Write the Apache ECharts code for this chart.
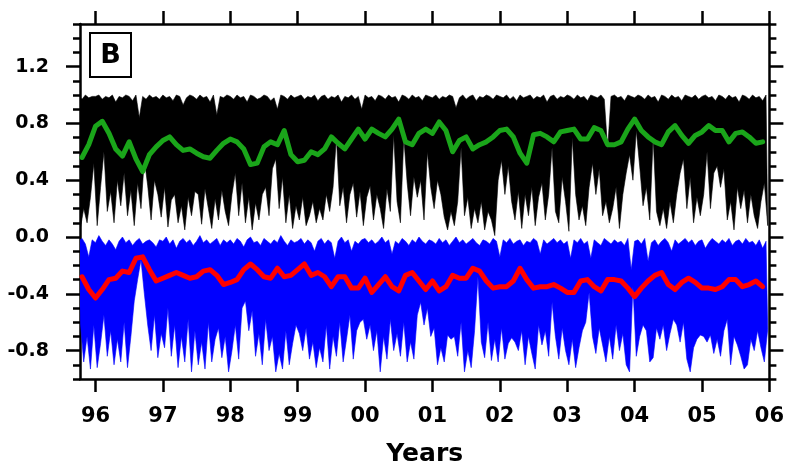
<!DOCTYPE html>
<html>
<head>
<meta charset="utf-8">
<script src="https://cdn.jsdelivr.net/npm/echarts@6/dist/echarts.min.js"></script>
<style>
html,body{margin:0;padding:0;background:#fff;}
#chart{width:787px;height:472px;}
</style>
</head>
<body>
<div id="chart"></div>
<script>
// ---------- data ----------
// dense series: one bin every 0.05 year starting at 95.75 (bin high and bin low)
var denseStart = 95.75;
var denseStep = 0.05;
var blackHigh = [
  0.99,0.97,1.0,0.98,0.99,
  0.99,1.0,0.97,0.99,0.98,1.0,0.95,0.99,0.98,1.0,0.99,0.96,1.0,0.84,0.99,0.97,1.0,0.98,0.99,0.97,
  1.0,0.98,0.99,0.96,1.0,0.99,0.93,0.98,1.0,0.99,0.97,1.0,0.98,0.99,0.95,1.0,0.86,0.99,0.98,1.0,
  0.99,0.97,1.0,0.98,0.99,0.95,1.0,0.99,0.97,0.98,1.0,0.99,0.96,0.98,0.9,1.0,0.99,0.97,1.0,0.98,
  0.99,1.0,0.97,0.99,0.98,1.0,0.96,0.99,1.0,0.97,0.99,0.98,1.0,0.95,0.99,0.98,1.0,0.97,0.99,0.9,
  1.0,0.98,0.99,0.96,1.0,0.99,0.97,1.0,0.98,0.99,0.95,1.0,0.99,0.97,1.0,0.98,0.99,0.96,1.0,0.99,
  0.98,1.0,0.97,0.99,0.98,1.0,0.99,0.91,0.98,1.0,0.97,0.99,1.0,0.96,0.99,0.98,1.0,0.99,0.97,1.0,
  0.99,0.98,1.0,0.97,0.99,0.96,1.0,0.98,0.99,1.0,0.97,0.99,0.98,1.0,0.95,0.99,1.0,0.97,0.99,0.98,
  1.0,0.99,0.97,1.0,0.98,0.99,0.96,1.0,0.99,0.98,1.0,0.97,0.62,0.99,1.0,0.98,0.99,0.96,1.0,0.99,
  0.98,1.0,0.99,0.97,1.0,0.98,0.99,0.95,1.0,0.99,0.97,1.0,0.98,0.99,0.96,1.0,0.99,0.98,1.0,0.97,
  0.99,1.0,0.98,0.99,0.96,1.0,0.99,0.97,1.0,0.98,0.99,0.95,1.0,0.99,0.97,1.0,0.98,0.99,0.96,1.0
];
var blackLow = [
  0.06,0.20,0.10,0.28,0.52,
  0.08,0.35,0.60,0.18,0.32,0.10,0.40,0.22,0.45,0.15,0.33,0.08,0.38,0.20,0.55,0.36,0.12,0.40,0.30,0.14,
  0.35,0.07,0.26,0.30,0.10,0.22,0.05,0.28,0.15,0.32,0.30,0.09,0.34,0.20,0.06,0.27,0.12,0.33,0.18,0.08,
  0.30,0.45,0.15,0.38,0.10,0.28,0.05,0.24,0.12,0.30,0.35,0.15,0.48,0.55,0.20,0.42,0.10,0.30,0.06,0.22,
  0.12,0.28,0.08,0.15,0.25,0.10,0.20,0.12,0.30,0.18,0.35,0.70,0.22,0.35,0.10,0.30,0.38,0.14,0.32,0.08,
  0.28,0.36,0.12,0.30,0.20,0.06,0.34,0.18,0.72,0.25,0.10,0.70,0.38,0.15,0.42,0.28,0.40,0.12,0.60,0.35,
  0.20,0.40,0.30,0.14,0.05,0.18,0.08,0.25,0.63,0.15,0.28,0.06,0.20,0.10,0.25,0.05,0.18,0.12,0.01,0.40,
  0.54,0.30,0.50,0.25,0.12,0.32,0.06,0.30,0.15,0.35,0.08,0.28,0.38,0.12,0.30,0.63,0.18,0.10,0.42,0.25,
  0.04,0.70,0.30,0.12,0.22,0.08,0.35,0.52,0.30,0.48,0.15,0.25,0.10,0.20,0.35,0.06,0.30,0.45,0.58,0.40,
  0.75,0.50,0.22,0.35,0.12,0.70,0.18,0.08,0.20,0.06,0.25,0.10,0.30,0.45,0.55,0.20,0.42,0.10,0.28,0.15,
  0.30,0.60,0.20,0.45,0.50,0.35,0.48,0.12,0.25,0.05,0.35,0.20,0.33,0.10,0.30,0.15,0.06,0.25,0.38,0.08
];
var blueHigh = [
  -0.03,-0.01,-0.05,-0.14,-0.02,
  -0.04,0.01,-0.03,-0.06,-0.02,-0.05,-0.09,-0.03,0.0,-0.04,-0.02,-0.06,-0.03,-0.01,-0.05,-0.03,-0.02,-0.04,-0.07,-0.02,
  -0.03,0.0,-0.05,-0.02,-0.08,-0.03,-0.01,-0.04,-0.02,-0.06,-0.03,0.01,-0.04,-0.02,-0.05,-0.03,-0.01,-0.06,-0.02,-0.04,
  -0.02,-0.05,-0.01,-0.03,-0.07,-0.02,0.0,-0.04,-0.03,-0.06,-0.01,-0.03,-0.05,-0.02,-0.04,0.01,-0.03,-0.06,-0.02,-0.04,
  -0.03,-0.01,-0.05,-0.02,-0.04,-0.1,-0.03,-0.01,-0.05,-0.02,-0.04,-0.15,-0.03,0.0,-0.04,-0.02,-0.1,-0.03,-0.05,-0.02,
  -0.01,-0.04,-0.02,-0.05,-0.03,0.0,-0.04,-0.02,-0.12,-0.03,-0.05,-0.01,-0.03,-0.06,-0.02,-0.04,0.0,-0.03,-0.05,-0.02,
  -0.03,-0.05,-0.01,-0.04,-0.02,-0.06,-0.03,0.0,-0.04,-0.02,-0.05,-0.03,-0.01,-0.04,-0.06,-0.02,-0.03,-0.05,-0.01,-0.03,
  -0.14,-0.02,-0.04,-0.01,-0.05,-0.03,-0.02,-0.06,-0.03,-0.04,-0.01,-0.03,-0.12,-0.02,-0.05,-0.03,-0.01,-0.04,-0.02,-0.05,
  -0.03,-0.15,-0.02,-0.04,-0.01,-0.05,-0.03,-0.15,-0.02,-0.04,-0.06,-0.01,-0.03,-0.05,-0.02,-0.04,-0.03,-0.06,-0.01,-0.23,
  -0.03,-0.02,-0.05,-0.01,-0.17,-0.04,-0.02,-0.06,-0.03,-0.01,-0.04,-0.1,-0.02,-0.05,-0.03,-0.01,-0.04,-0.02,-0.06,-0.03,
  -0.02,-0.08,-0.04,-0.01,-0.03,-0.05,-0.02,-0.04,-0.01,-0.06,-0.03,-0.02,-0.05,-0.01,-0.04,-0.03,-0.06,-0.02,-0.08,-0.03
];
var blueLow = [
  -0.60,-0.88,-0.70,-0.93,-0.62,
  -0.92,-0.75,-0.55,-0.84,-0.66,-0.90,-0.72,-0.88,-0.60,-0.92,-0.70,-0.45,-0.30,-0.16,-0.40,-0.62,-0.80,-0.55,-0.85,-0.68,
  -0.78,-0.50,-0.84,-0.62,-0.92,-0.70,-0.88,-0.58,-0.95,-0.66,-0.90,-0.74,-0.93,-0.60,-0.88,-0.72,-0.64,-0.85,-0.70,-0.95,
  -0.80,-0.62,-0.86,-0.50,-0.45,-0.66,-0.52,-0.84,-0.68,-0.90,-0.58,-0.80,-0.70,-0.95,-0.82,-0.93,-0.66,-0.90,-0.75,-0.62,
  -0.68,-0.80,-0.64,-0.86,-0.74,-0.92,-0.78,-0.88,-0.62,-0.93,-0.70,-0.84,-0.60,-0.88,-0.72,-0.55,-0.86,-0.66,-0.60,-0.58,
  -0.72,-0.62,-0.80,-0.66,-0.95,-0.70,-0.86,-0.58,-0.80,-0.68,-0.84,-0.60,-0.88,-0.74,-0.86,-0.55,-0.46,-0.62,-0.50,-0.70,
  -0.64,-0.90,-0.78,-0.88,-0.69,-0.72,-0.70,-0.84,-0.60,-0.95,-0.80,-0.92,-0.66,-0.28,-0.74,-0.85,-0.60,-0.87,-0.72,-0.88,
  -0.64,-0.86,-0.75,-0.71,-0.74,-0.80,-0.66,-0.90,-0.70,-0.82,-0.93,-0.62,-0.76,-0.66,-0.84,-0.46,-0.70,-0.86,-0.64,-0.80,
  -0.90,-0.72,-0.92,-0.78,-0.66,-0.60,-0.39,-0.70,-0.82,-0.64,-0.76,-0.88,-0.70,-0.86,-0.62,-0.80,-0.68,-0.90,-0.95,-0.35,
  -0.84,-0.70,-0.62,-0.66,-0.88,-0.85,-0.64,-0.72,-0.62,-0.80,-0.68,-0.58,-0.62,-0.74,-0.60,-0.86,-0.95,-0.78,-0.72,-0.69,
  -0.70,-0.74,-0.69,-0.82,-0.72,-0.84,-0.66,-0.58,-0.90,-0.70,-0.76,-0.84,-0.93,-0.90,-0.72,-0.80,-0.66,-0.78,-0.88,-0.65
];
// smoothed series: one value every 0.1 year starting at 95.8
var smoothStart = 95.8;
var smoothStep = 0.1;
var greenSmooth = [
  0.56,0.65,
  0.78,0.815,0.73,0.62,0.57,0.67,0.55,0.46,0.58,0.635,
  0.68,0.705,0.65,0.61,0.62,0.59,0.565,0.555,0.61,0.66,
  0.69,0.67,0.62,0.51,0.52,0.635,0.67,0.65,0.75,0.58,
  0.53,0.54,0.60,0.58,0.62,0.705,0.66,0.62,0.69,0.76,
  0.69,0.76,0.73,0.705,0.76,0.83,0.67,0.65,0.73,0.76,
  0.73,0.81,0.75,0.60,0.68,0.705,0.62,0.65,0.67,0.705,
  0.75,0.76,0.705,0.59,0.52,0.72,0.73,0.705,0.67,0.74,
  0.75,0.76,0.69,0.69,0.77,0.75,0.65,0.65,0.67,0.76,
  0.83,0.75,0.705,0.67,0.65,0.74,0.785,0.715,0.66,0.715,
  0.74,0.785,0.75,0.75,0.67,0.73,0.74,0.705,0.66,0.67
];
var redSmooth = [
  -0.28,-0.37,
  -0.43,-0.37,-0.30,-0.29,-0.24,-0.25,-0.15,-0.14,-0.23,-0.31,
  -0.29,-0.27,-0.25,-0.27,-0.29,-0.28,-0.24,-0.23,-0.27,-0.335,
  -0.32,-0.30,-0.23,-0.19,-0.23,-0.28,-0.29,-0.22,-0.28,-0.27,
  -0.23,-0.19,-0.27,-0.25,-0.28,-0.35,-0.28,-0.28,-0.36,-0.36,
  -0.29,-0.39,-0.335,-0.28,-0.35,-0.38,-0.27,-0.25,-0.31,-0.37,
  -0.31,-0.38,-0.35,-0.27,-0.29,-0.29,-0.22,-0.24,-0.31,-0.36,
  -0.35,-0.35,-0.31,-0.22,-0.30,-0.36,-0.35,-0.35,-0.335,-0.36,
  -0.39,-0.39,-0.31,-0.30,-0.35,-0.38,-0.30,-0.30,-0.31,-0.36,
  -0.42,-0.36,-0.31,-0.27,-0.25,-0.335,-0.37,-0.32,-0.29,-0.32,
  -0.36,-0.36,-0.37,-0.35,-0.30,-0.30,-0.35,-0.335,-0.31,-0.35
];
var xTickValues = [96,97,98,99,100,101,102,103,104,105,106];
var xTickLabels = ['96','97','98','99','00','01','02','03','04','05','06'];
var yTickValues = [-0.8,-0.4,0.0,0.4,0.8,1.2];
var yTickLabels = ['-0.8','-0.4','0.0','0.4','0.8','1.2'];
var panelLabel = 'B';
var xTitle = 'Years';

// ---------- helpers ----------
function bandSeries(hi, lo, color) {
  return {
    type: 'custom', xAxisIndex: 0, yAxisIndex: 0, clip: true, silent: true,
    data: [0],
    renderItem: function (params, api) {
      var pts = [], i;
      for (i = 0; i < hi.length; i++) {
        pts.push(api.coord([denseStart + i * denseStep, hi[i]]));
      }
      for (i = lo.length - 1; i >= 0; i--) {
        pts.push(api.coord([denseStart + i * denseStep + denseStep / 2, lo[i]]));
      }
      var cs = params.coordSys;
      return {
        type: 'group',
        clipPath: { type: 'rect', shape: { x: cs.x, y: cs.y, width: cs.width, height: cs.height } },
        children: [{ type: 'polygon', shape: { points: pts }, style: { fill: color, stroke: color, lineWidth: 0.6 } }]
      };
    }
  };
}
function smooth(vals) {
  return vals.map(function (v, i) { return [smoothStart + i * smoothStep, v]; });
}

var FONT = 'DejaVu Sans';
var axisLineStyle = { color: '#000', width: 2.5 };
var chart = echarts.init(document.getElementById('chart'), null, { renderer: 'canvas' });

function xAx(pos, withLabels) {
  return {
    type: 'value', position: pos, min: 95.77, max: 106,
    axisLine: { show: true, onZero: false, lineStyle: axisLineStyle },
    axisTick: { show: true, inside: false, length: 13, customValues: xTickValues, lineStyle: { color: '#000', width: 2.5 } },
    axisLabel: withLabels ? {
      show: true, customValues: xTickValues, margin: 27,
      fontFamily: FONT, fontWeight: 'bold', fontSize: 21, color: '#000',
      formatter: function (v) { var k = xTickValues.indexOf(Math.round(v)); return k >= 0 ? xTickLabels[k] : ''; }
    } : { show: false },
    splitLine: { show: false },
    name: withLabels ? xTitle : '',
    nameLocation: 'middle', nameGap: 63,
    nameTextStyle: { fontFamily: FONT, fontWeight: 'bold', fontSize: 25, color: '#000' }
  };
}
function yMinor(pos) {
  return {
    type: 'value', position: pos, min: -1.0, max: 1.5, interval: 0.1,
    axisLine: { show: true, onZero: false, lineStyle: axisLineStyle },
    axisTick: { show: true, inside: false, length: 7, lineStyle: { color: '#000', width: 2.5 } },
    axisLabel: { show: false },
    splitLine: { show: false }
  };
}
function yMajor(pos, withLabels) {
  return {
    type: 'value', position: pos, min: -1.0, max: 1.5,
    axisLine: { show: false },
    axisTick: { show: true, inside: false, length: 14, customValues: yTickValues, lineStyle: { color: '#000', width: 2.5 } },
    axisLabel: withLabels ? {
      show: true, customValues: yTickValues, margin: 31,
      fontFamily: FONT, fontWeight: 'bold', fontSize: 19, color: '#000',
      formatter: function (v) {
        for (var k = 0; k < yTickValues.length; k++) { if (Math.abs(yTickValues[k] - v) < 1e-6) return yTickLabels[k]; }
        return '';
      }
    } : { show: false },
    splitLine: { show: false }
  };
}

var option = {
  animation: false,
  backgroundColor: '#fff',
  grid: { left: 80, right: 15, top: 24, bottom: 89, containLabel: false },
  xAxis: [xAx('bottom', true), xAx('top', false)],
  yAxis: [yMinor('left'), yMajor('left', true), yMinor('right'), yMajor('right', false)],
  series: [
    bandSeries(blackHigh, blackLow, '#000000'),
    bandSeries(blueHigh, blueLow, '#0000ff'),
    {
      type: 'line', name: 'green', data: smooth(greenSmooth), showSymbol: false, symbol: 'none',
      clip: true, xAxisIndex: 0, yAxisIndex: 0, z: 5,
      lineStyle: { color: '#1aa51a', width: 5, join: 'round', cap: 'round' }
    },
    {
      type: 'line', name: 'red', data: smooth(redSmooth), showSymbol: false, symbol: 'none',
      clip: true, xAxisIndex: 0, yAxisIndex: 0, z: 5,
      lineStyle: { color: '#ff0000', width: 5, join: 'round', cap: 'round' }
    }
  ],
  graphic: [
    {
      type: 'group', left: 89, top: 32,
      children: [
        { type: 'rect', shape: { x: 0, y: 0, width: 41, height: 44 }, style: { fill: '#fff', stroke: '#000', lineWidth: 2 } },
        { type: 'text', x: 20.5, y: 23, style: { text: panelLabel, fontFamily: FONT, fontWeight: 'bold', fontSize: 27, fill: '#000', textAlign: 'center', textVerticalAlign: 'middle' } }
      ]
    }
  ]
};
chart.setOption(option);
</script>
</body>
</html>
